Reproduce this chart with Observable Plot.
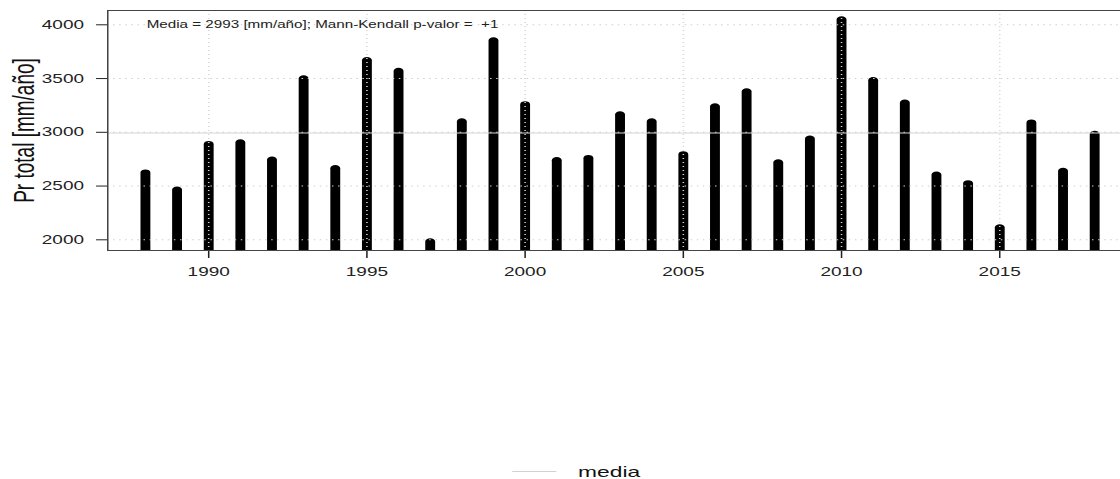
<!DOCTYPE html>
<html>
<head>
<meta charset="utf-8">
<script src="https://cdn.jsdelivr.net/npm/d3@7"></script>
<script src="https://cdn.jsdelivr.net/npm/@observablehq/plot@0.6"></script>
<style>
  html, body { margin: 0; padding: 0; background: #fff; overflow: hidden; }
  #wrap { position: relative; width: 1120px; height: 479px; overflow: hidden; }
  svg text { white-space: pre; }
  #legend { position: absolute; left: 0; top: 458px; width: 740px; height: 21px;
            transform: scaleX(1.52); transform-origin: 0 0;
            font-family: "Liberation Sans", Arial, sans-serif; }
  #legend .ln { position: absolute; left: 336.8px; top: 13.4px; width: 29.6px; height: 1px; background: #d2d2d2; }
  #legend .tx { position: absolute; left: 380.3px; top: 7.4px; font-size: 15px; line-height: 13px; color: #111; white-space: nowrap; }
</style>
</head>
<body>
<div id="wrap"></div>
<script>
// ---- data ----
const years = [1988, 1989, 1990, 1991, 1992, 1993, 1994, 1995, 1996, 1997,
               1998, 1999, 2000, 2001, 2002, 2003, 2004, 2005, 2006, 2007,
               2008, 2009, 2010, 2011, 2012, 2013, 2014, 2015, 2016, 2017, 2018];
const precip = [2620, 2460, 2885, 2900, 2740, 3495, 2660, 3665, 3565, 1980,
                3095, 3850, 3255, 2735, 2755, 3160, 3095, 2790, 3235, 3375,
                2715, 2935, 4045, 3480, 3270, 2600, 2520, 2110, 3085, 2635, 2980];
const meanValue = 2993;
const xTicks = [1990, 1995, 2000, 2005, 2010, 2015];
const yTicks = [2000, 2500, 3000, 3500, 4000];
const yTitle = "Pr total [mm/año]";
const statsText = "Media = 2993 [mm/año]; Mann-Kendall p-valor =  +1";
const legendLabel = "media";

// ---- layout ----
const S = 1.52;          // horizontal stretch of the original picture
const W = 740, H = 440;
const yBase = 1850;      // bars start below the frame (clipped)

const rows = years.map((y, i) => ({year: y, value: precip[i]}));

const chart = Plot.plot({
  width: W,
  height: H,
  marginLeft: 70.4,
  marginRight: 0,
  marginTop: 10,
  marginBottom: H - 250,
  style: {fontFamily: "'Liberation Sans', Arial, sans-serif", fontSize: "12.5px", color: "#222", background: "white"},
  x: {type: "linear", domain: [1986.81, 2018.976], ticks: xTicks, tickFormat: "d", tickSize: 8, tickPadding: 9, label: null},
  y: {domain: [1900.5, 4133], ticks: yTicks, tickFormat: "d", tickSize: 7.2, tickPadding: 8.4, label: null},
  marks: [
    Plot.ruleX(rows, {x: "year", y1: yBase, y2: "value", stroke: "black", strokeWidth: 6.5, strokeLinecap: "round", clip: true}),
    Plot.ruleY([meanValue], {stroke: "#d6d6d6", strokeWidth: 1}),
    Plot.ruleY(yTicks, {stroke: "#cfcfcf", strokeWidth: 1, strokeDasharray: "1,3"}),
    Plot.ruleX(xTicks, {stroke: "#d6d6d6", strokeWidth: 1, strokeDasharray: "1,3"}),
    Plot.frame({stroke: "#444", strokeWidth: 1}),
    Plot.text([statsText], {frameAnchor: "top-left", text: d => d, textAnchor: "start", lineAnchor: "bottom", dx: 25.6, dy: 17.3, fontSize: 10, fill: "#222"}),
    Plot.text([yTitle], {frameAnchor: "left", text: d => d, textAnchor: "middle", lineAnchor: "middle", rotate: -90, dx: -54.6, fontSize: 19, fill: "#111"})
  ]
});

const svg = chart.tagName.toLowerCase() === "svg" ? chart : chart.querySelector("svg");
svg.setAttribute("preserveAspectRatio", "none");
svg.setAttribute("width", W * S);
svg.setAttribute("height", H);
svg.style.width = (W * S) + "px";
svg.style.height = H + "px";
svg.style.maxWidth = "none";
svg.style.display = "block";

const wrap = document.getElementById("wrap");
wrap.appendChild(chart);

const legend = document.createElement("div");
legend.id = "legend";
legend.innerHTML = '<div class="ln"></div><div class="tx"></div>';
legend.querySelector(".tx").textContent = legendLabel;
wrap.appendChild(legend);
</script>
</body>
</html>
